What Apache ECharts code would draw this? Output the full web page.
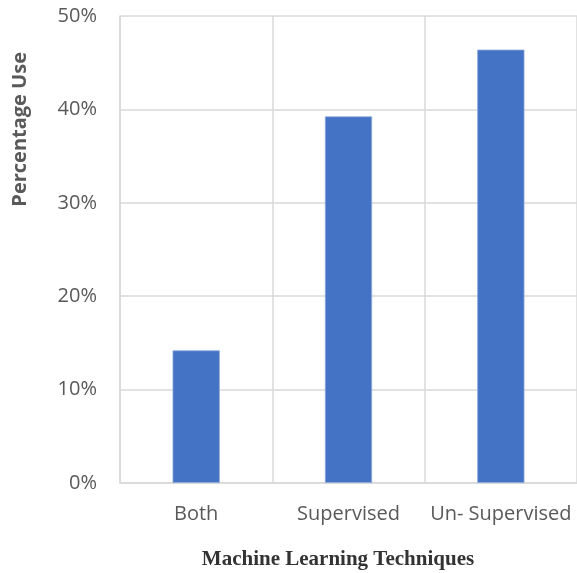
<!DOCTYPE html>
<html>
<head>
<meta charset="utf-8">
<script src="https://cdn.jsdelivr.net/npm/echarts@6/dist/echarts.min.js"></script>
<style>
  html, body { margin: 0; padding: 0; background: #fff; }
  #main { width: 577px; height: 573px; }
</style>
</head>
<body>
<div id="main"></div>
<script>
  const categories = ["Both", "Supervised", "Un- Supervised"];
  const percentUse = [14.2, 39.25, 46.4];
  const yTicks = [0, 10, 20, 30, 40, 50];

  const chart = echarts.init(document.getElementById("main"));
  const gridColor = "#d9d9d9";
  const option = {
    animation: false,
    grid: { left: 120, right: -3, top: 16, bottom: 90 },
    xAxis: {
      type: "category",
      data: categories,
      axisLine: { lineStyle: { color: gridColor, width: 1.5 } },
      axisTick: { show: false },
      splitLine: { show: true, lineStyle: { color: gridColor, width: 1.5 } },
      axisLabel: {
        interval: 0,
        margin: 21,
        color: "#595959",
        fontFamily: "Open Sans",
        fontSize: 20,
      },
    },
    yAxis: {
      type: "value",
      min: yTicks[0],
      max: yTicks[yTicks.length - 1],
      interval: 10,
      axisLine: { show: true, lineStyle: { color: gridColor, width: 1.5 } },
      axisTick: { show: false },
      splitLine: { lineStyle: { color: gridColor, width: 1.5 } },
      axisLabel: {
        margin: 23,
        color: "#595959",
        fontFamily: "Open Sans",
        fontSize: 20,
        formatter: "{value}%",
      },
    },
    graphic: [
      {
        type: "text",
        x: 30,
        y: 52,
        rotation: Math.PI / 2,
        style: {
          text: "Percentage Use",
          fill: "#595959",
          font: "bold 20px 'Open Sans'",
          align: "right",
          verticalAlign: "bottom",
        },
      },
      {
        type: "text",
        x: 338,
        y: 560,
        style: {
          text: "Machine Learning Techniques",
          fill: "#333333",
          font: "bold 21px 'Liberation Serif'",
          align: "center",
          verticalAlign: "middle",
        },
      },
    ],
    series: [
      {
        type: "bar",
        data: percentUse,
        barWidth: "31%",
        itemStyle: {
          color: "#4472c4",
          borderColor: "#8eaadb",
          borderWidth: 0.8,
        },
      },
    ],
  };
  chart.setOption(option);
</script>
</body>
</html>
